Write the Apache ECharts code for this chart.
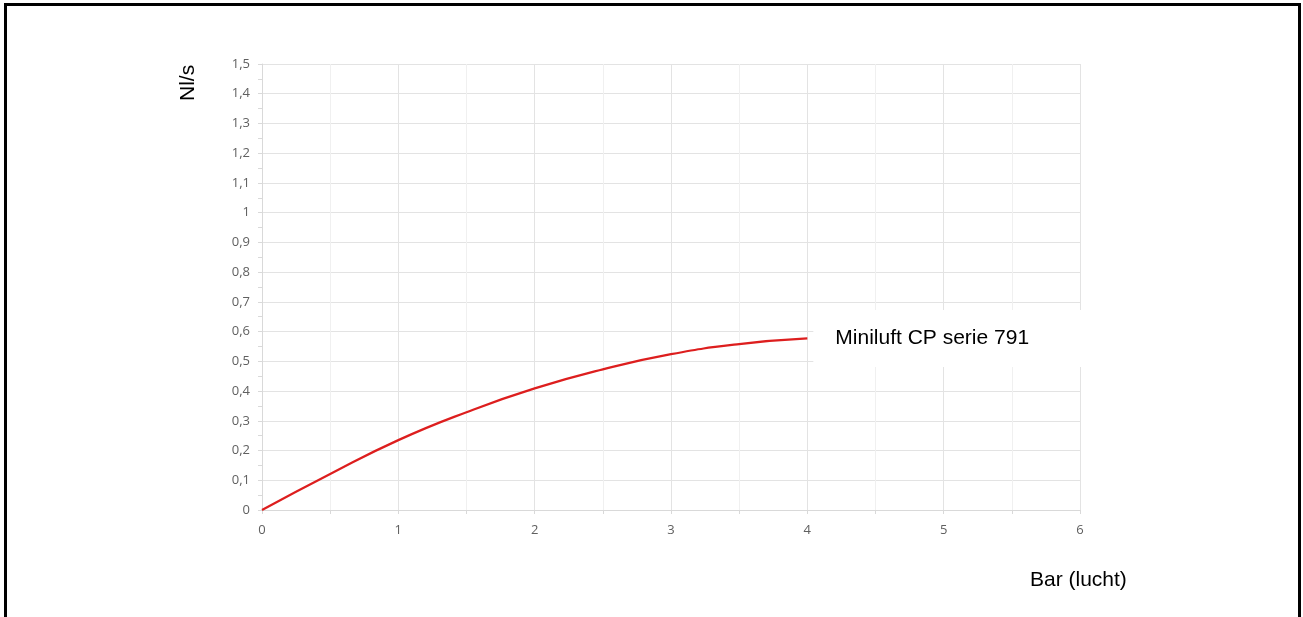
<!DOCTYPE html>
<html>
<head>
<meta charset="utf-8">
<script src="https://cdn.jsdelivr.net/npm/echarts@6/dist/echarts.min.js"></script>
<style>
html,body{margin:0;padding:0;background:#fff;overflow:hidden;}
#wrap{position:relative;width:1303px;height:617px;}
#chart{position:absolute;left:0;top:0;width:1303px;height:617px;}
#frame{position:absolute;left:4px;top:3px;width:1297px;height:700px;box-sizing:border-box;border:3px solid #000;pointer-events:none;}
</style>
</head>
<body>
<div id="wrap"><div id="chart"></div><div id="frame"></div></div>
<script>
// Data
const seriesName = 'Miniluft CP serie 791';
const xTitle = 'Bar (lucht)';
const yTitle = 'Nl/s';
const pressure = [0, 0.5, 1, 1.5, 2, 2.5, 3, 3.5, 4];
const flow = [0, 0.121, 0.235, 0.329, 0.409, 0.473, 0.524, 0.558, 0.577];

const chart = echarts.init(document.getElementById('chart'));
const fmt = v => String(Math.round(v * 10) / 10).replace('.', ',');

chart.setOption({
  animation: false,
  grid: { left: 262, right: 223, top: 64, bottom: 107, containLabel: false },
  xAxis: {
    type: 'value', min: 0, max: 6, interval: 1,
    axisLine: { show: true, lineStyle: { color: '#d9d9d9', width: 1 } },
    axisTick: { show: true, length: 4, lineStyle: { color: '#d9d9d9' } },
    minorTick: { show: true, splitNumber: 2, length: 4, lineStyle: { color: '#d9d9d9' } },
    splitLine: { show: true, lineStyle: { color: '#e3e3e3', width: 1 } },
    minorSplitLine: { show: true, lineStyle: { color: '#f0f0f0', width: 1 } },
    axisLabel: { color: '#606060', fontSize: 13, fontFamily: 'Open Sans', margin: 14, formatter: fmt }
  },
  yAxis: {
    type: 'value', min: 0, max: 1.5, interval: 0.1,
    axisLine: { show: true, lineStyle: { color: '#d9d9d9', width: 1 } },
    axisTick: { show: true, length: 4, lineStyle: { color: '#d9d9d9' } },
    minorTick: { show: true, splitNumber: 2, length: 4, lineStyle: { color: '#d9d9d9' } },
    splitLine: { show: true, lineStyle: { color: '#e3e3e3', width: 1 } },
    axisLabel: { color: '#606060', fontSize: 13, fontFamily: 'Open Sans', margin: 12, formatter: fmt }
  },
  series: [{
    name: seriesName,
    type: 'line',
    smooth: true,
    showSymbol: false,
    data: pressure.map((p, i) => [p, flow[i]]),
    lineStyle: { color: '#dd1e1e', width: 2.2 },
    itemStyle: { color: '#dd1e1e' },
    endLabel: {
      show: true,
      formatter: '{a}',
      distance: 6,
      backgroundColor: '#fff',
      padding: [18, 52, 18, 22],
      color: '#000',
      fontSize: 21,
      fontFamily: 'Liberation Sans, Arial'
    }
  }],
  graphic: [
    {
      type: 'text', left: 1030, top: 570,
      style: { text: xTitle, fill: '#000', fontSize: 21, fontFamily: 'Liberation Sans, Arial' }
    },
    {
      type: 'text', x: 178, y: 101, rotation: Math.PI / 2,
      style: { text: yTitle, fill: '#000', fontSize: 21, fontFamily: 'Liberation Sans, Arial' }
    }
  ]
});
</script>
</body>
</html>
